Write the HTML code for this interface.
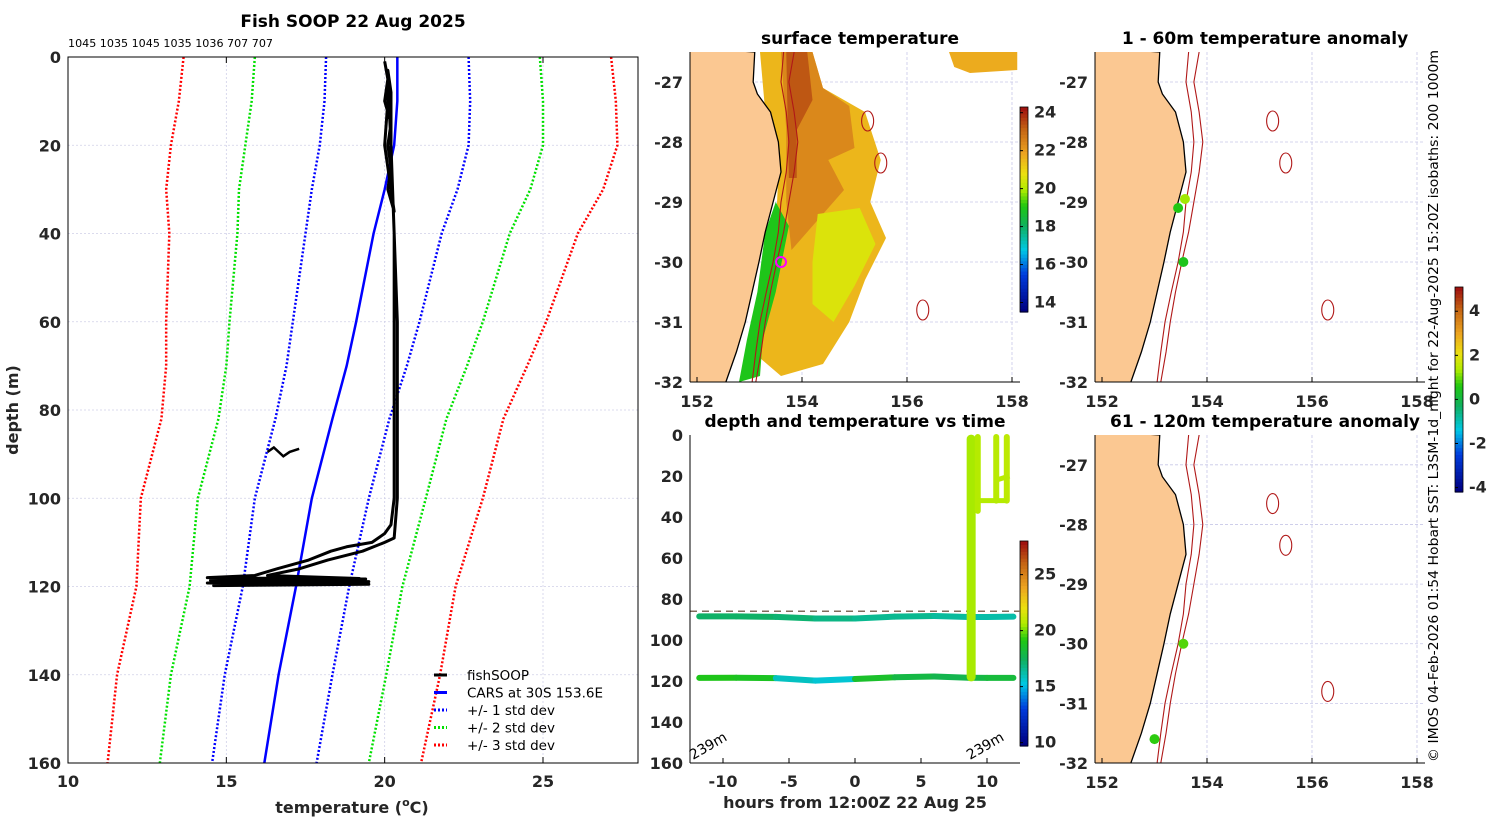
<!DOCTYPE html>
<html><head><meta charset="utf-8">
<style>
html,body{margin:0;padding:0;background:#fff;}
svg{display:block;font-family:"DejaVu Sans","Liberation Sans",sans-serif;}
.tk{font-weight:bold;font-size:16px;fill:#262626;}
.ttl{font-weight:bold;font-size:17px;fill:#000;}
.pl{font-weight:normal;fill:#000;}
</style></head>
<body>
<svg id="fig" width="1500" height="820" viewBox="0 0 1500 820"></svg>
<script>
// ---------- profile data ----------
const carsDepth=[0,10,20,30,40,60,70,82,100,120,140,160];
const carsMean=[20.4,20.4,20.3,20.0,19.65,19.1,18.8,18.35,17.7,17.2,16.65,16.2];
const carsSd=[2.25,2.3,2.35,2.3,2.15,2.0,1.9,1.8,1.8,1.68,1.7,1.65];
const fishDepth=[1,5,10,15,20,25,30,35,30,20,10,3,8,20,40,60,80,100,106,108,110,111,112,114,116,117.5,118,118.3,118.6,118.9,119.2,119.5,119.8,119.5,119.2,118.8,118.5,118.2,117.5,116,114,112,110,109,100,80,60,40,20,5];
const fishTemp=[20.0,20.1,20.0,20.2,20.1,20.2,20.1,20.3,20.2,20.0,20.1,20.1,20.2,20.2,20.3,20.3,20.3,20.3,20.2,20.0,19.6,18.8,18.3,17.6,16.6,15.9,14.4,19.4,14.5,19.5,14.4,19.4,14.6,19.5,14.5,19.3,15.0,19.2,16.3,17.3,18.2,19.3,20.0,20.3,20.4,20.4,20.4,20.3,20.2,20.1];
const blipTemp=[16.3,16.5,16.8,17.0,17.3];
const blipDepth=[89.5,88.5,90.5,89.5,88.8];
const depthTicks=[0,20,40,60,80,100,120,140,160];
const tempTicks=[10,15,20,25];
// ---------- time series data ----------
const hours=[-11.8,-9,-6,-3,0,3,6,8.6,10,12];
const shallowDepth=[88.5,88.5,88.7,89.5,89.5,88.6,88.3,88.8,88.8,88.6];
const shallowTemp=[17.3,17.3,17.1,16.8,16.6,16.6,16.4,16.2,16.2,16.2];
const deepDepth=[118.5,118.4,118.6,119.8,119,118.2,117.8,118.4,118.5,118.5];
const deepTemp=[19.0,18.8,15.8,15.5,18.6,18.0,17.8,18.0,18.2,18.2];
const castHours=[8.8,9.3,10.7,11.5];
const castBottom=[118,37,32,32];
const castTemp=[20.6,20.8,20.9,21.0];
const hourTicks=[-10,-5,0,5,10];
// ---------- map data ----------
const coastLat=[-26.5,-27,-27.2,-27.5,-28,-28.5,-29,-29.5,-30,-30.5,-31,-31.5,-32];
const coastLon=[153.1,153.07,153.15,153.4,153.55,153.6,153.45,153.3,153.18,153.05,152.92,152.75,152.55];
const iso200Lon=[153.65,153.6,153.7,153.75,153.7,153.6,153.55,153.45,153.32,153.2,153.12,153.05];
const iso1000Lon=[153.85,153.75,153.85,153.92,153.85,153.75,153.65,153.52,153.4,153.3,153.22,153.12];
const isoLat=[-26.5,-27,-27.5,-28,-28.5,-29,-29.5,-30,-30.5,-31,-31.5,-32];
const seamountLon=[155.25,155.5,156.3];
const seamountLat=[-27.65,-28.35,-30.8];
const anomTopLon=[153.58,153.45,153.55];
const anomTopLat=[-28.95,-29.1,-30.0];
const anomTopVal=[1.3,0.6,0.5];
const anomBotLon=[153.55,153.0];
const anomBotLat=[-30.0,-31.6];
const anomBotVal=[0.9,0.7];
const lonTicks=[152,154,156,158];
const latTicks=[-27,-28,-29,-30,-31,-32];
// SST regions: [temperature, polygon lon/lat]
const sstTemp=[21.6,22.5,23.4,20.6,19.0,21.8];
const sstPolys=[
 [[153.2,-26.5],[154.2,-26.5],[154.4,-27.1],[155.2,-27.5],[155.5,-28.3],[155.3,-29.0],[155.6,-29.6],[155.2,-30.3],[154.9,-31.0],[154.4,-31.7],[153.6,-31.9],[153.2,-31.6],[153.3,-30.5],[153.5,-29.5],[153.55,-28.5],[153.3,-27.5]],
 [[153.6,-26.5],[154.2,-26.5],[154.4,-27.1],[154.9,-27.4],[155.0,-28.1],[154.5,-28.3],[154.8,-28.8],[154.3,-29.3],[153.8,-29.8],[153.7,-29.0],[153.7,-27.8]],
 [[153.7,-26.5],[154.1,-26.5],[154.2,-27.3],[153.9,-27.8],[153.9,-28.6],[153.75,-28.6]],
 [[154.3,-29.2],[155.1,-29.1],[155.4,-29.7],[155.0,-30.4],[154.6,-31.0],[154.2,-30.7],[154.2,-30.0]],
 [[153.5,-29.0],[153.75,-29.4],[153.5,-30.5],[153.25,-31.3],[153.2,-31.9],[152.8,-32],[152.95,-31.3],[153.15,-30.5],[153.3,-29.5]],
 [[156.8,-26.5],[158.1,-26.5],[158.1,-26.8],[157.2,-26.85],[156.9,-26.75]]
];
const sstTicks=[14,16,18,20,22,24];
const ctTicks=[10,15,20,25];
const anomTicks=[-4,-2,0,2,4];

const NS='http://www.w3.org/2000/svg';
const fig=document.getElementById('fig');
function mk(tag,attrs,parent){const e=document.createElementNS(NS,tag);for(const k in attrs)e.setAttribute(k,attrs[k]);(parent||fig).appendChild(e);return e;}
function txt(s,x,y,cls,anchor,parent,extra){const e=mk('text',Object.assign({x:x,y:y,class:cls,'text-anchor':anchor||'middle'},extra||{}),parent);e.textContent=s;return e;}
const cmStops=[[0,[0,0,128]],[0.18,[0,60,220]],[0.3,[0,200,230]],[0.42,[16,176,96]],[0.52,[32,200,16]],[0.6,[176,236,0]],[0.68,[236,224,16]],[0.78,[236,164,32]],[0.9,[196,100,20]],[1,[160,20,16]]];
function jet(t){t=Math.max(0,Math.min(1,t));for(let i=1;i<cmStops.length;i++){if(t<=cmStops[i][0]){const a=cmStops[i-1],b=cmStops[i],f=(t-a[0])/(b[0]-a[0]);return 'rgb('+a[1].map((v,k)=>Math.round(v+(b[1][k]-v)*f)).join(',')+')';}}return 'rgb(160,20,16)';}

// ================= profile panel =================
const P={x0:68,x1:638,y0:57,y1:763,t0:10,t1:28,d0:0,d1:160};
const px=t=>P.x0+(t-P.t0)/(P.t1-P.t0)*(P.x1-P.x0);
const py=d=>P.y0+(d-P.d0)/(P.d1-P.d0)*(P.y1-P.y0);
const gp=mk('g',{});


tempTicks.forEach(t=>{mk('line',{x1:px(t),x2:px(t),y1:P.y0,y2:P.y1,stroke:'#d0d0e8','stroke-width':0.8,'stroke-dasharray':'2,2'},gp);
 mk('line',{x1:px(t),x2:px(t),y1:P.y1,y2:P.y1-6,stroke:'#000'},gp);mk('line',{x1:px(t),x2:px(t),y1:P.y0,y2:P.y0+6,stroke:'#000'},gp);
 txt(String(t),px(t),787,'tk','middle',gp);});
depthTicks.forEach(d=>{mk('line',{x1:P.x0,x2:P.x1,y1:py(d),y2:py(d),stroke:'#d0d0e8','stroke-width':0.8,'stroke-dasharray':'2,2'},gp);
 txt(String(d),61,py(d)+6,'tk','end',gp);});
const sdCol={1:'#0000ff',2:'#00e000',3:'#ff0000'};
[1,2,3].forEach(k=>{[-1,1].forEach(s=>{
 const pts=carsDepth.map((d,i)=>px(carsMean[i]+s*k*carsSd[i])+','+py(d)).join(' ');
 const l=mk('polyline',{points:pts,fill:'none',stroke:sdCol[k],'stroke-width':2.5,'stroke-dasharray':'2,2'},gp);
 
 
});});
const cars=mk('polyline',{points:carsDepth.map((d,i)=>px(carsMean[i])+','+py(d)).join(' '),fill:'none',stroke:'#0000ff','stroke-width':2.5},gp);


const fish=mk('polyline',{points:fishDepth.map((d,i)=>px(fishTemp[i])+','+py(d)).join(' '),fill:'none',stroke:'#000','stroke-width':3,'stroke-linejoin':'round'},gp);


const blip=mk('polyline',{points:blipDepth.map((d,i)=>px(blipTemp[i])+','+py(d)).join(' '),fill:'none',stroke:'#000','stroke-width':2.5},gp);


mk('rect',{x:P.x0,y:P.y0,width:P.x1-P.x0,height:P.y1-P.y0,fill:'none',stroke:'#000','stroke-width':1},gp);
txt('Fish SOOP 22 Aug 2025',353,27,'ttl','middle',gp);
txt('1045 1035 1045 1035 1036 707 707',68,47,'pl','start',gp,{'font-size':'11px',textLength:205,lengthAdjust:'spacingAndGlyphs'});
txt('depth (m)',18,410,'tk','middle',gp,{transform:'rotate(-90 18 410)','font-size':'17px'});
const xl=txt('',352,813,'tk','middle',gp,{'font-size':'17px'});
xl.innerHTML='temperature (<tspan dy="-7" font-size="11">o</tspan><tspan dy="7">C)</tspan>';
const lg=mk('g',{},gp);


[['fishSOOP','#000',''],['CARS at 30S 153.6E','#0000ff',''],['+/- 1 std dev','#0000ff','2,2'],['+/- 2 std dev','#00e000','2,2'],['+/- 3 std dev','#ff0000','2,2']].forEach((e,i)=>{
 const y=675+i*17.5;mk('line',{x1:434,x2:447,y1:y,y2:y,stroke:e[1],'stroke-width':3,'stroke-dasharray':e[2]},lg);
 txt(e[0],467,y+5,'pl','start',lg,{'font-size':'13.5px'});});

// ================= map helper =================
function mapPanel(name,x0,y0,x1,y1,title,opts){
 const g=mk('g',{});
 const mx=l=>x0+7+(l-152)*52.5;
 const my=a=>y1-(a+32)*(y1-y0)/5.5;
 const cid='clip'+name;const cp=mk('clipPath',{id:cid},g);mk('rect',{x:x0,y:y0,width:x1-x0,height:y1-y0},cp);
 const inner=mk('g',{'clip-path':'url(#'+cid+')'},g);
 lonTicks.forEach(l=>mk('line',{x1:mx(l),x2:mx(l),y1:y0,y2:y1,stroke:'#c8c8e8','stroke-width':0.8,'stroke-dasharray':'3,2'},inner));
 latTicks.forEach(a=>mk('line',{x1:x0,x2:x1,y1:my(a),y2:my(a),stroke:'#c8c8e8','stroke-width':0.8,'stroke-dasharray':'3,2'},inner));
 if(opts.sst){sstPolys.forEach((poly,i)=>{const p=mk('polygon',{points:poly.map(q=>mx(q[0])+','+my(q[1])).join(' '),fill:jet((sstTemp[i]-13.5)/(24.3-13.5))},inner);
  
  });}
 let land=coastLat.map((a,i)=>mx(coastLon[i])+','+my(a)).join(' ');
 land+=' '+(x0-5)+','+(y1+5)+' '+(x0-5)+','+(y0-5);
 const lp=mk('polygon',{points:land,fill:'#fbc892',stroke:'#000','stroke-width':1.3},inner);
 
 
 [iso200Lon,iso1000Lon].forEach((arr,k)=>{const l=mk('polyline',{points:isoLat.map((a,i)=>mx(arr[i])+','+my(a)).join(' '),fill:'none',stroke:'#b01818','stroke-width':1.1},inner);
  
  });
 seamountLon.forEach((l,i)=>{const e=mk('ellipse',{cx:mx(l),cy:my(seamountLat[i]),rx:6,ry:10,fill:'none',stroke:'#b01818','stroke-width':1.1},inner);
  
  });
 if(opts.dots){opts.dots[0].forEach((l,i)=>{const c=mk('circle',{cx:mx(l),cy:my(opts.dots[1][i]),r:5,fill:jet((opts.dots[2][i]+4.2)/9.3)},inner);
  
  });}
 if(opts.ship){const c=mk('circle',{cx:mx(153.6),cy:my(-30),r:5,fill:'none',stroke:'#ff00ff','stroke-width':2},inner);
  
  }
 mk('line',{x1:x0,x2:x0,y1:y0,y2:y1,stroke:'#000'},g);mk('line',{x1:x0,x2:x1,y1:y1,y2:y1,stroke:'#000'},g);
 lonTicks.forEach(l=>{mk('line',{x1:mx(l),x2:mx(l),y1:y1,y2:y1-5,stroke:'#000'},g);txt(String(l),mx(l),y1+25,'tk','middle',g);});
 latTicks.forEach(a=>txt(String(a),x0-7,my(a)+6,'tk','end',g));
 txt(title,(x0+x1)/2+5,y0-8,'ttl','middle',g);
 return g;
}
mapPanel('surface-temperature-map',690,52,1020,382,'surface temperature',{sst:true,ship:true});
mapPanel('anomaly-1-60m-map',1095,52,1425,382,'1 - 60m temperature anomaly',{dots:[anomTopLon,anomTopLat,anomTopVal]});
mapPanel('anomaly-61-120m-map',1095,435,1425,763,'61 - 120m temperature anomaly',{dots:[anomBotLon,anomBotLat,anomBotVal]});

// ================= colorbars =================
function cbar(name,x,y0,y1,v0,v1,ticks,fs){
 const g=mk('g',{});
 const n=60;for(let i=0;i<n;i++){mk('rect',{x:x,y:y1-(i+1)*(y1-y0)/n,width:8,height:(y1-y0)/n+0.6,fill:jet(i/(n-1))},g);}
 mk('rect',{x:x,y:y0,width:8,height:y1-y0,fill:'none',stroke:'#000','stroke-width':0.8},g);
 ticks.forEach(t=>{const y=y1-(t-v0)/(v1-v0)*(y1-y0);mk('line',{x1:x,x2:x+3,y1:y,y2:y,stroke:'#000'},g);txt(String(t),x+14,y+5,'tk','start',g,{'font-size':fs||'14px'});});
}
cbar('sst-colorbar',1020,107,312,13.5,24.3,sstTicks);
cbar('time-colorbar',1020,541,746,9.7,28,ctTicks);
cbar('anomaly-colorbar',1455,287,492,-4.2,5.1,anomTicks,'13px');

// ================= time-depth panel =================
const T={x0:690,x1:1020,y0:435,y1:763};
const tx=h=>855+h*13.2;
const ty=d=>T.y0+d/160*(T.y1-T.y0);
const gt=mk('g',{});
mk('line',{x1:T.x0,x2:T.x1,y1:ty(86),y2:ty(86),stroke:'#806c5c','stroke-width':1.5,'stroke-dasharray':'7,5'},gt);
[[shallowDepth,shallowTemp,'shallow-track'],[deepDepth,deepTemp,'deep-track']].forEach(s=>{
 for(let i=0;i<hours.length-1;i++){const l=mk('line',{x1:tx(hours[i]),x2:tx(hours[i+1]),y1:ty(s[0][i]),y2:ty(s[0][i+1]),stroke:jet((s[1][i]-9.7)/18.3),'stroke-width':6,'stroke-linecap':'round'},gt);
  
  }});
castHours.forEach((h,i)=>{const l=mk('line',{x1:tx(h),x2:tx(h),y1:ty(i?1:2),y2:ty(castBottom[i]),stroke:jet((castTemp[i]-9.7)/18.3),'stroke-width':i?6:9,'stroke-linecap':'round'},gt);
 
 });
mk('line',{x1:tx(9.3),x2:tx(11.5),y1:ty(32),y2:ty(32),stroke:jet((20.8-9.7)/18.3),'stroke-width':5},gt);
mk('line',{x1:tx(10.7),x2:tx(11.7),y1:ty(22),y2:ty(20),stroke:jet((20.9-9.7)/18.3),'stroke-width':5},gt);
mk('line',{x1:T.x0,x2:T.x0,y1:T.y0,y2:T.y1,stroke:'#000'},gt);mk('line',{x1:T.x0,x2:T.x1,y1:T.y1,y2:T.y1,stroke:'#000'},gt);
hourTicks.forEach(h=>{mk('line',{x1:tx(h),x2:tx(h),y1:T.y1,y2:T.y1-5,stroke:'#000'},gt);txt(String(h),tx(h),787,'tk','middle',gt);});
depthTicks.forEach(d=>txt(String(d),683,ty(d)+6,'tk','end',gt));
txt('depth and temperature vs time',855,427,'ttl','middle',gt);
txt('hours from 12:00Z 22 Aug 25',855,808,'tk','middle',gt,{'font-size':'17px'});
txt('239m',693,760,'pl','start',gt,{transform:'rotate(-30 693 760)','font-size':'14px'});
txt('239m',970,760,'pl','start',gt,{transform:'rotate(-30 970 760)','font-size':'14px'});
const cr=txt('© IMOS 04-Feb-2026 01:54 Hobart SST: L3SM-1d_night for 22-Aug-2025 15:20Z isobaths: 200  1000m',1438,406,'pl','middle',null,{transform:'rotate(-90 1438 406)','font-size':'13.5px',textLength:712,lengthAdjust:'spacingAndGlyphs'});


</script>
</body></html>
